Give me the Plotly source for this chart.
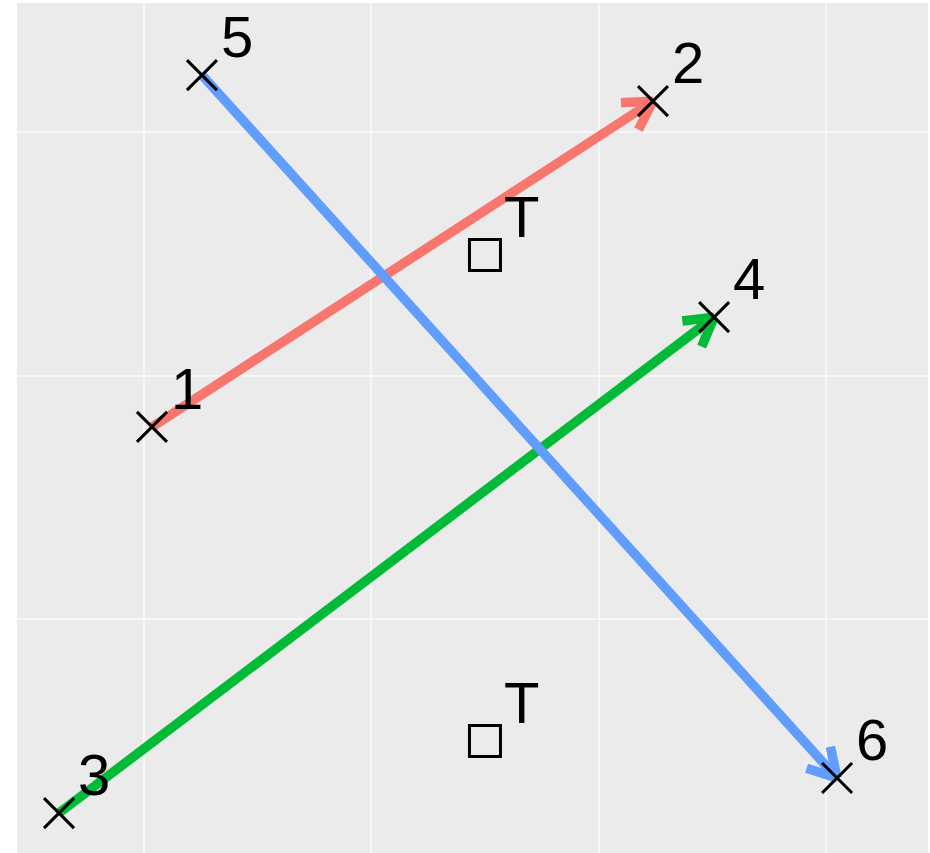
import math
import plotly.graph_objects as go

# points, labelled 1..6
pt_labels = ["1", "2", "3", "4", "5", "6"]
pt_x = [1.035, 3.239, 0.626, 3.508, 1.255, 4.049]
pt_y = [1.789, 3.127, 0.203, 2.240, 3.234, 0.347]

# arrows: start label -> end label
arrow_from = ["1", "3", "5"]
arrow_to = ["2", "4", "6"]
arrow_colors = ["#F8766D", "#00BA38", "#619CFF"]

# "T" squares
t_x = [2.50, 2.50]
t_y = [2.495, 0.499]
t_labels = ["T", "T"]

W, H = 930, 853
ml, mr, mt, mb = 17, 2, 3, 0
x_range = [0.4413, 4.449]
y_range = [0.039, 3.530]
px_x = (W - ml - mr) / (x_range[1] - x_range[0])
px_y = (H - mt - mb) / (y_range[1] - y_range[0])

head_len = 32
head_ang = math.radians(30)

fig = go.Figure()

idx = {l: i for i, l in enumerate(pt_labels)}
for a, b, col in zip(arrow_from, arrow_to, arrow_colors):
    x0, y0 = pt_x[idx[a]], pt_y[idx[a]]
    x1, y1 = pt_x[idx[b]], pt_y[idx[b]]
    # direction in pixel space
    dx = (x1 - x0) * px_x
    dy = (y1 - y0) * px_y
    ang = math.atan2(dy, dx)
    xs = [x0, x1, None]
    ys = [y0, y1, None]
    for s in (1, -1):
        a2 = ang + math.pi + s * head_ang
        ax = x1 + head_len * math.cos(a2) / px_x
        ay = y1 + head_len * math.sin(a2) / px_y
        xs += [ax, x1, None]
        ys += [ay, y1, None]
    fig.add_trace(go.Scatter(x=xs, y=ys, mode="lines",
                             line=dict(color=col, width=9.5),
                             hoverinfo="skip", showlegend=False))

fig.add_trace(go.Scatter(
    x=pt_x, y=pt_y, mode="markers",
    marker=dict(symbol="x-thin-open", size=30, color="black",
                line=dict(color="black", width=3)),
    showlegend=False))

fig.add_trace(go.Scatter(
    x=t_x, y=t_y, mode="markers",
    marker=dict(symbol="square-open", size=31, color="black",
                line=dict(color="black", width=3)),
    showlegend=False))

for lx, ly, lt in list(zip(pt_x, pt_y, pt_labels)) + list(zip(t_x, t_y, t_labels)):
    fig.add_annotation(x=lx, y=ly, text=lt, showarrow=False,
                       xanchor="left", yanchor="bottom",
                       xshift=17, yshift=4,
                       font=dict(family="Liberation Sans, Arial", size=58, color="black"))

fig.update_xaxes(range=x_range, showgrid=True, gridcolor="#F7F7F7", gridwidth=1.5,
                 tick0=0, dtick=1, showticklabels=False, ticks="", zeroline=False,
                 showline=False)
fig.update_yaxes(range=y_range, showgrid=True, gridcolor="#F7F7F7", gridwidth=1.5,
                 tick0=0, dtick=1, showticklabels=False, ticks="", zeroline=False,
                 showline=False)
fig.update_layout(width=W, height=H, margin=dict(l=ml, r=mr, t=mt, b=mb),
                  plot_bgcolor="#EBEBEB", paper_bgcolor="white")

# drop the page's default 8px body margin so the figure sits at the window corner
fig.write_html("out.html", config={"displayModeBar": False},
               post_script="document.body.style.margin='0';")
